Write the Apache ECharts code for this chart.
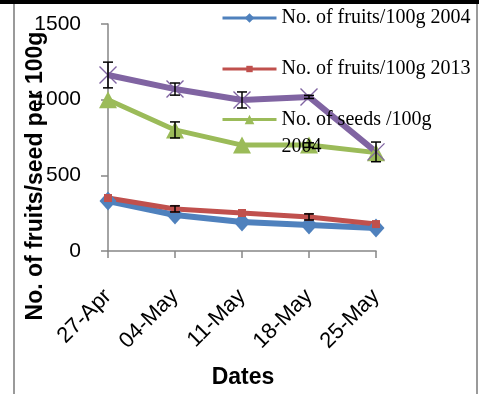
<!DOCTYPE html>
<html>
<head>
<meta charset="utf-8">
<script src="https://cdn.jsdelivr.net/npm/echarts@6/dist/echarts.min.js"></script>
<style>html,body{margin:0;padding:0;background:#fff}#c{width:479px;height:394px}</style>
</head>
<body>
<div id="c"></div>
<script>
const categories = ['27-Apr', '04-May', '11-May', '18-May', '25-May'];
const fruits2004 = [330, 238, 191, 172, 152];
const fruits2013 = [350, 278, 251, 225, 178];
const seeds2004 = [1000, 800, 700, 700, 650];
const seeds2013 = [1163, 1070, 998, 1018, 655];
const fruits2013Err = [0, 20, 0, 20, 0];
const seeds2004Err = [0, 53, 0, 15, 0];
const seeds2013Err = [85, 40, 53, 10, 65];
const yMin = 0, yMax = 1500, yStep = 500;

const names = ['No. of fruits/100g 2004', 'No. of fruits/100g 2013', 'No. of seeds /100g 2004', 'No. of seeds /100g 2013'];

const errData = [];
[[fruits2013, fruits2013Err], [seeds2004, seeds2004Err], [seeds2013, seeds2013Err]].forEach(function (p) {
  p[0].forEach(function (v, i) { if (p[1][i] > 0) errData.push([i, v, p[1][i]]); });
});

const chart = echarts.init(document.getElementById('c'));
const legendBase = {
  orient: 'vertical', left: 221, itemWidth: 54, padding: 0, itemGap: 0,
  selectedMode: false, lineStyle: { width: 3 },
  textStyle: { fontFamily: 'Liberation Serif', fontSize: 20, color: '#000' }
};
chart.setOption({
  animation: false,
  backgroundColor: '#fff',
  grid: { left: 108, right: 103, top: 24, bottom: 143 },
  legend: [
    Object.assign({}, legendBase, { top: 8, itemHeight: 12, data: [names[0]] }),
    Object.assign({}, legendBase, { top: 59, itemHeight: 8, data: [names[1]] }),
    Object.assign({}, legendBase, {
      top: 79, itemHeight: 12, data: [names[2]],
      formatter: function () { return '\nNo. of seeds /100g\n2004'; },
      textStyle: { fontFamily: 'Liberation Serif', fontSize: 20, color: '#000', lineHeight: 27 }
    })
  ],
  xAxis: [{
    type: 'category', data: categories, boundaryGap: false,
    axisLine: { lineStyle: { color: '#868686', width: 1.5 } },
    axisTick: { show: true, length: 7, lineStyle: { color: '#868686', width: 1.5 } },
    axisLabel: { show: false },
    splitLine: { show: false }
  }, {
    type: 'category', data: categories, boundaryGap: false, position: 'bottom', offset: 34,
    axisLine: { show: false }, axisTick: { show: false },
    axisLabel: { rotate: 45, margin: 8, fontFamily: 'Liberation Sans', fontSize: 22, color: '#000' },
    splitLine: { show: false }
  }],
  yAxis: {
    type: 'value', min: yMin, max: yMax, interval: yStep,
    axisLine: { show: true, lineStyle: { color: '#868686', width: 1.5 } },
    axisTick: { show: true, length: 7, lineStyle: { color: '#868686', width: 1.5 } },
    axisLabel: { margin: 27, fontFamily: 'Liberation Sans', fontSize: 21, color: '#000',
      formatter: function (v) { return String(v); } },
    splitLine: { show: false }
  },
  graphic: [
    { type: 'rect', shape: { x: 0, y: 0, width: 479, height: 4 }, style: { fill: '#000' }, z: 100 },
    { type: 'rect', shape: { x: 13, y: 4, width: 2, height: 390 }, style: { fill: '#9a9a9a' }, z: 100 },
    { type: 'rect', shape: { x: 476, y: 4, width: 2, height: 390 }, style: { fill: '#9a9a9a' }, z: 100 },
    { type: 'text', x: 36, y: 176, rotation: Math.PI / 2, z: 100,
      style: { text: 'No. of fruits/seed per 100g', font: 'bold 23px "Liberation Sans"', fill: '#000', align: 'center', verticalAlign: 'middle' } },
    { type: 'text', x: 243, y: 378, z: 100,
      style: { text: 'Dates', font: 'bold 23px "Liberation Sans"', fill: '#000', align: 'center', verticalAlign: 'middle' } }
  ],
  series: [
    { name: names[0], type: 'line', data: fruits2004, color: '#4F81BD',
      lineStyle: { width: 6, color: '#4F81BD' }, symbol: 'diamond', symbolSize: [17, 19], itemStyle: { color: '#4F81BD' } },
    { name: names[1], type: 'line', data: fruits2013, color: '#C0504D',
      lineStyle: { width: 5, color: '#C0504D' }, symbol: 'rect', symbolSize: 8, itemStyle: { color: '#C0504D' } },
    { name: names[2], type: 'line', data: seeds2004, color: '#9BBB59',
      lineStyle: { width: 5, color: '#9BBB59' }, symbol: 'triangle', symbolSize: [18, 17], itemStyle: { color: '#9BBB59' } },
    { name: names[3], type: 'line', data: seeds2013, color: '#8064A2',
      lineStyle: { width: 6, color: '#8064A2' }, symbol: 'path://M0,0L10,10M10,0L0,10', symbolSize: 17,
      itemStyle: { color: 'rgba(0,0,0,0)', borderColor: '#8064A2', borderWidth: 1.4 } },
    { type: 'custom', data: errData, z: 10,
      renderItem: function (params, api) {
        const i = api.value(0), v = api.value(1), e = api.value(2);
        const top = api.coord([i, v + e]), bot = api.coord([i, v - e]);
        const w = 5;
        return { type: 'group', children: [
          { type: 'line', shape: { x1: top[0], y1: top[1], x2: bot[0], y2: bot[1] }, style: { stroke: '#000', lineWidth: 1.5 } },
          { type: 'line', shape: { x1: top[0] - w, y1: top[1], x2: top[0] + w, y2: top[1] }, style: { stroke: '#000', lineWidth: 1.5 } },
          { type: 'line', shape: { x1: bot[0] - w, y1: bot[1], x2: bot[0] + w, y2: bot[1] }, style: { stroke: '#000', lineWidth: 1.5 } }
        ] };
      }
    }
  ]
});
</script>
</body>
</html>
